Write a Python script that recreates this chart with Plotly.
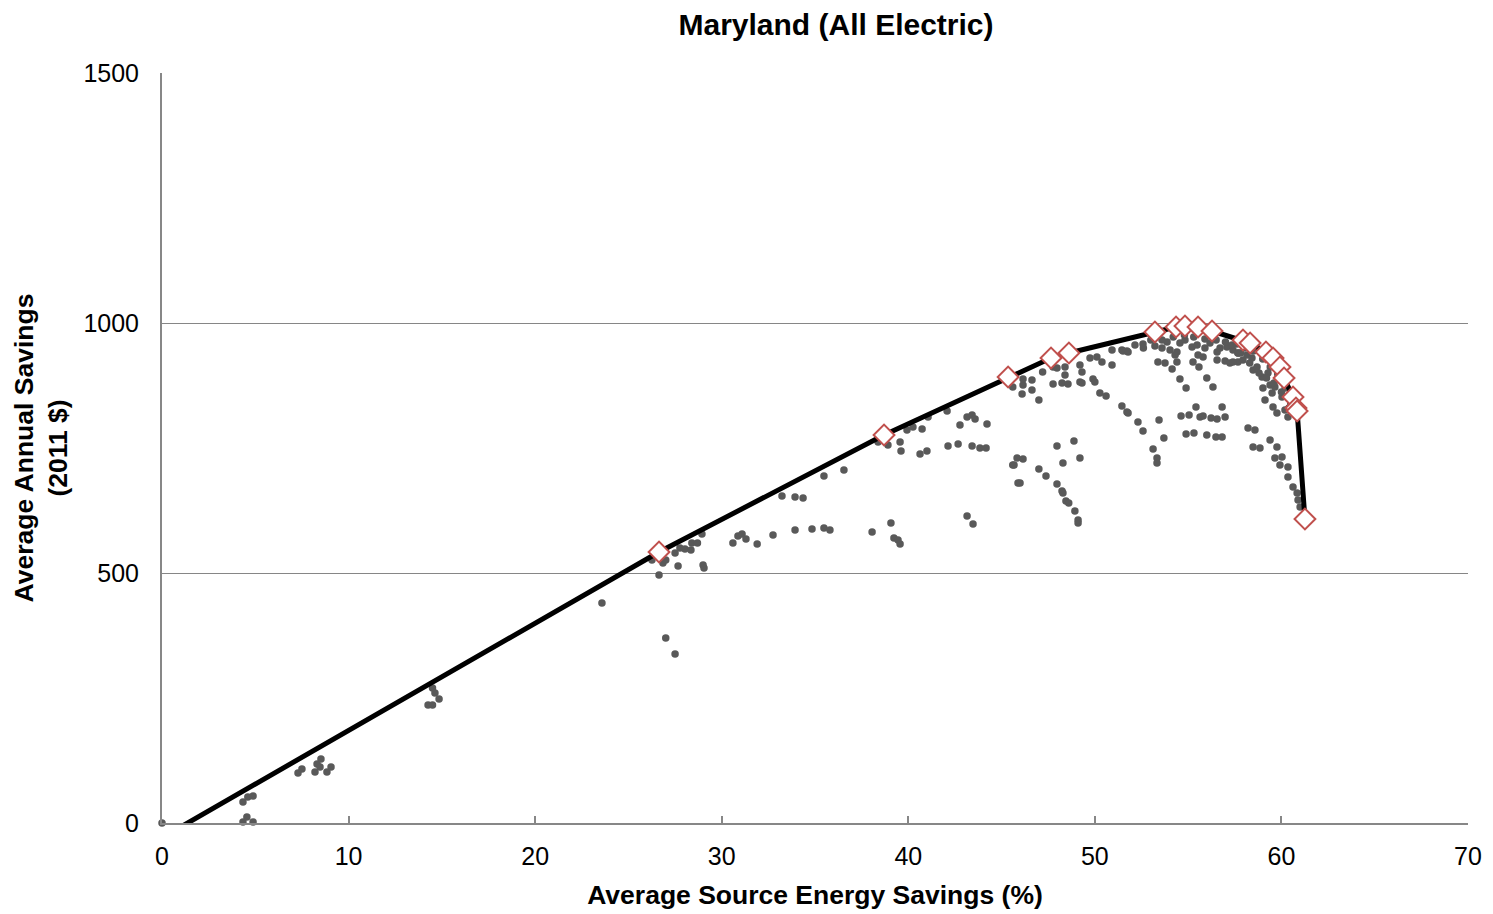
import plotly.graph_objects as go

# Least-cost curve points (diamonds) - source energy savings (%) vs annual savings ($)
curve_x = [1.0, 26.64, 38.70, 45.35, 47.65, 48.61, 53.22, 54.35, 54.83, 55.53, 56.28,
           57.94, 58.32, 59.17, 59.55, 59.92, 60.14, 60.62, 60.78, 60.84, 61.26]
curve_y = [-8, 542, 776, 892, 930, 940, 982, 992, 994, 992, 984,
           966, 960, 942, 930, 912, 890, 852, 830, 824, 608]
diamond_x = curve_x[1:]
diamond_y = curve_y[1:]

# All simulated packages (grey dots)
pts_x = [
    0.0, 4.34, 4.55, 4.88, 4.34, 4.60, 4.88, 7.29, 7.50, 8.20, 8.31, 8.52, 8.84, 9.06, 8.47,
    14.26, 14.50, 14.63, 14.50, 14.85,
    23.58, 27.00, 27.50, 26.64, 26.26, 26.85, 27.00, 27.66, 27.50, 27.76, 28.03, 28.40, 28.70,
    28.35, 28.94, 29.00, 29.05, 30.60, 30.87, 31.09, 31.30, 31.90, 32.75, 33.23, 33.93, 34.36,
    33.93, 34.84, 35.48, 35.80, 35.48, 36.55, 38.06, 39.07, 39.23, 39.45, 39.56,
    38.38, 38.91, 39.56, 39.61, 39.93, 40.25, 40.74, 40.63, 41.00, 42.08, 41.06,
    42.77, 43.15, 43.42, 43.58, 44.22, 42.13, 42.67, 43.42, 43.84, 44.17, 43.15, 43.47,
    45.60, 45.83, 45.88,
    45.60, 46.15, 46.15, 46.10, 46.63, 46.63, 47.00, 47.20, 47.76, 47.97, 48.40, 47.76, 48.24,
    48.56, 48.40, 49.20, 49.31, 49.20, 49.31, 49.74, 50.11, 50.38, 50.92, 49.90, 50.00, 50.27,
    50.60, 50.92, 51.45, 51.72, 51.45, 51.72,
    46.15, 45.67, 45.99, 47.97, 48.88, 49.20, 48.29, 47.00, 47.38,
    47.97, 48.24, 48.29, 48.45, 48.60, 48.93, 49.10, 49.10,
    51.51, 51.78, 52.15, 52.58, 53.22, 53.60, 53.87, 54.03, 54.40, 54.56, 54.83, 55.21, 55.48,
    55.90, 56.17, 56.55, 56.71, 57.08, 57.40, 57.67,
    53.38, 53.76, 54.14, 54.40, 54.30, 55.26, 55.53, 55.80, 55.58, 56.55, 56.98, 57.24, 57.67,
    54.56, 54.89, 56.00, 56.33,
    51.78, 52.31, 52.58, 53.12, 53.33, 53.33, 53.44, 53.70,
    54.62, 55.05, 55.42, 55.64, 55.80, 56.23, 56.55, 56.82, 56.98,
    54.89, 55.31, 56.00, 56.49, 56.82,
    57.35, 57.40, 57.67, 57.94, 58.15, 58.42, 58.48, 58.69, 58.96, 59.01, 59.12, 59.28, 59.50,
    59.55, 59.76, 59.65, 60.03, 60.19, 59.92, 59.39, 60.35,
    58.21, 58.58, 58.48, 58.85, 59.39, 59.76, 59.65, 60.03, 59.92, 60.35, 60.35, 60.62, 60.84,
    60.89, 61.00,
    53.60, 54.20, 54.80, 55.30, 55.90, 56.50, 57.00, 57.60, 58.00, 58.50, 59.00, 59.40, 59.80,
    60.20, 60.50, 60.70, 53.00, 52.60, 58.80, 59.20, 59.60, 60.00, 60.40, 58.30, 57.80,
]
pts_y = [
    0, 2, 12, 2, 42, 52, 54, 100, 108, 102, 118, 128, 102, 112, 112,
    236, 236, 260, 270, 248,
    440, 370, 338, 496, 526, 520, 526, 514, 540, 550, 548, 560, 560,
    546, 578, 516, 510, 560, 574, 578, 568, 558, 576, 654, 652, 650,
    586, 588, 590, 586, 694, 706, 582, 600, 570, 566, 558,
    762, 756, 762, 744, 786, 792, 788, 738, 744, 824, 812,
    796, 812, 816, 808, 798, 754, 758, 754, 750, 750, 614, 598,
    716, 730, 680,
    872, 876, 888, 858, 886, 866, 846, 902, 912, 910, 912, 878, 880,
    878, 896, 916, 902, 882, 880, 930, 932, 922, 916, 888, 882, 860,
    854, 946, 946, 944, 834, 822,
    728, 716, 680, 754, 764, 730, 720, 708, 694,
    678, 664, 660, 644, 640, 624, 606, 600,
    944, 942, 956, 958, 954, 950, 962, 946, 942, 960, 966, 952, 956,
    950, 960, 942, 950, 952, 946, 940,
    922, 920, 908, 922, 936, 922, 936, 932, 912, 926, 924, 920, 922,
    888, 870, 890, 872,
    820, 802, 784, 748, 730, 720, 806, 770,
    814, 816, 832, 812, 814, 810, 808, 832, 812,
    778, 780, 776, 772, 772,
    956, 922, 940, 926, 936, 930, 906, 912, 892, 870, 846, 900, 860,
    832, 820, 872, 852, 826, 886, 876, 812,
    790, 786, 752, 750, 766, 752, 730, 732, 716, 712, 692, 672, 660,
    646, 632,
    966, 972, 976, 972, 968, 966, 962, 958, 950, 944, 928, 912, 898,
    870, 840, 820, 966, 950, 900, 890, 880, 862, 830, 920, 940,
]

fig = go.Figure()

fig.add_trace(go.Scatter(
    x=pts_x, y=pts_y, mode='markers',
    marker=dict(size=7.5, color='#595959'),
    showlegend=False, hoverinfo='x+y', cliponaxis=False
))

fig.add_trace(go.Scatter(
    x=curve_x, y=curve_y, mode='lines',
    line=dict(color='black', width=5),
    showlegend=False, hoverinfo='skip'
))

fig.add_trace(go.Scatter(
    x=diamond_x, y=diamond_y, mode='markers',
    marker=dict(symbol='diamond', size=16, color='white',
                line=dict(color='#C0504D', width=2)),
    showlegend=False, hoverinfo='x+y', cliponaxis=False
))

font = 'Liberation Sans, Arial, sans-serif'

# page body has an 8px margin, so the figure is sized to fit inside the window
fig.update_layout(
    title=dict(text='<b>Maryland (All Electric)</b>', x=828 / 1485, xanchor='center',
               y=1 - 16 / 906, yanchor='middle', font=dict(family=font, size=30, color='black')),
    width=1485, height=906,
    margin=dict(l=154, r=25, t=65, b=91),
    plot_bgcolor='white', paper_bgcolor='white',
    font=dict(family=font, size=25, color='black'),
    xaxis=dict(
        range=[0, 70], tickvals=[0, 10, 20, 30, 40, 50, 60, 70],
        showgrid=False, zeroline=False, automargin=False,
        showline=True, linecolor='#878787', linewidth=2,
        ticks='inside', ticklen=7, tickcolor='#878787', tickwidth=2,
        ticklabelstandoff=10,
        title=dict(text='<b>Average Source Energy Savings (%)</b>', standoff=16,
                   font=dict(size=26.5)),
        tickfont=dict(size=25),
    ),
    yaxis=dict(
        range=[0, 1500], tickvals=[0, 500, 1000, 1500],
        showgrid=True, gridcolor='#868686', gridwidth=1.3, zeroline=False, automargin=False,
        showline=True, linecolor='#878787', linewidth=2,
        ticks='', ticklabelstandoff=16,
        title=dict(text='<b>Average Annual Savings<br>(2011 $)</b>', standoff=8,
                   font=dict(size=26.5)),
        tickfont=dict(size=25),
    ),
)

fig.write_html("out.html")
